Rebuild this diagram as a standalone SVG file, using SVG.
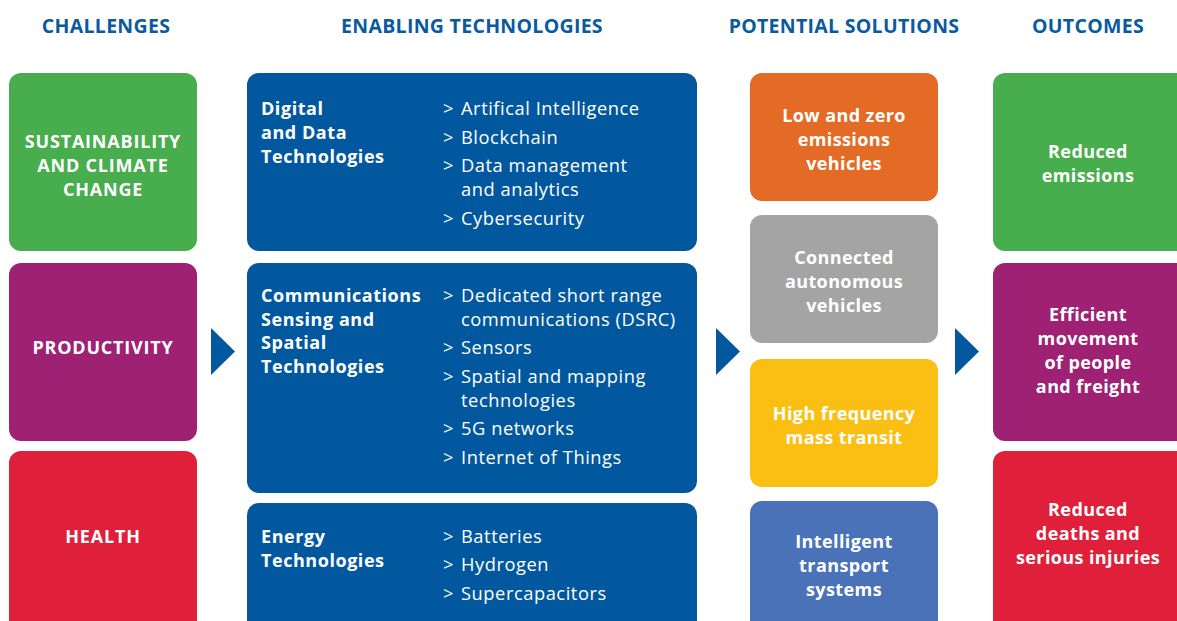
<svg xmlns="http://www.w3.org/2000/svg" width="1177" height="621" viewBox="0 0 1177 621">
<style>
.hd{font-family:"Open Sans","Liberation Sans",sans-serif;font-weight:700;font-size:19.5px;letter-spacing:0.3px;fill:#0a5aa0;text-anchor:middle}
.cb{font-family:"Open Sans","Liberation Sans",sans-serif;font-weight:700;font-size:18px;letter-spacing:0.4px;fill:#fff;text-anchor:middle}
.up{letter-spacing:0.8px}
.tt{font-family:"Open Sans","Liberation Sans",sans-serif;font-weight:700;font-size:18px;letter-spacing:0.55px;fill:#fff}
.it{font-family:"Open Sans","Liberation Sans",sans-serif;font-weight:400;font-size:18.3px;letter-spacing:0.55px;fill:#fff}
.arr{fill:#02589e}
</style>
<g id="headers">
<text class="hd" x="106" y="33">CHALLENGES</text>
<text class="hd" x="472" y="33">ENABLING TECHNOLOGIES</text>
<text class="hd" x="844" y="33">POTENTIAL SOLUTIONS</text>
<text class="hd" x="1088" y="33">OUTCOMES</text>
</g>
<g id="ch-sustainability">
<rect x="9" y="73" width="188" height="178" rx="12" fill="#48ae4d"/>
<text class="cb up" x="103" y="148">SUSTAINABILITY</text>
<text class="cb up" x="103" y="172">AND CLIMATE</text>
<text class="cb up" x="103" y="196">CHANGE</text>
</g>
<g id="ch-productivity">
<rect x="9" y="263" width="188" height="178" rx="12" fill="#9e2173"/>
<text class="cb up" x="103" y="354">PRODUCTIVITY</text>
</g>
<g id="ch-health">
<rect x="9" y="451" width="188" height="190" rx="12" fill="#e01f3a"/>
<text class="cb up" x="103" y="543">HEALTH</text>
</g>
<g id="tech-digital">
<rect x="247" y="73" width="450" height="178" rx="12" fill="#02589e"/>
<text class="tt" x="261" y="115">Digital</text>
<text class="tt" x="261" y="139">and Data</text>
<text class="tt" x="261" y="163">Technologies</text>
<text class="it" x="443" y="115">&gt;</text><text class="it" x="461" y="115">Artifical Intelligence</text>
<text class="it" x="443" y="144">&gt;</text><text class="it" x="461" y="144">Blockchain</text>
<text class="it" x="443" y="172">&gt;</text><text class="it" x="461" y="172">Data management</text>
<text class="it" x="461" y="196">and analytics</text>
<text class="it" x="443" y="225">&gt;</text><text class="it" x="461" y="225">Cybersecurity</text>
</g>
<g id="tech-comms">
<rect x="247" y="263" width="450" height="230" rx="12" fill="#02589e"/>
<text class="tt" x="261" y="302">Communications</text>
<text class="tt" x="261" y="326">Sensing and</text>
<text class="tt" x="261" y="349">Spatial</text>
<text class="tt" x="261" y="373">Technologies</text>
<text class="it" x="443" y="302">&gt;</text><text class="it" x="461" y="302">Dedicated short range</text>
<text class="it" x="461" y="326">communications (DSRC)</text>
<text class="it" x="443" y="354">&gt;</text><text class="it" x="461" y="354">Sensors</text>
<text class="it" x="443" y="383">&gt;</text><text class="it" x="461" y="383">Spatial and mapping</text>
<text class="it" x="461" y="407">technologies</text>
<text class="it" x="443" y="435">&gt;</text><text class="it" x="461" y="435">5G networks</text>
<text class="it" x="443" y="464">&gt;</text><text class="it" x="461" y="464">Internet of Things</text>
</g>
<g id="tech-energy">
<rect x="247" y="503" width="450" height="138" rx="12" fill="#02589e"/>
<text class="tt" x="261" y="543">Energy</text>
<text class="tt" x="261" y="567">Technologies</text>
<text class="it" x="443" y="543">&gt;</text><text class="it" x="461" y="543">Batteries</text>
<text class="it" x="443" y="571">&gt;</text><text class="it" x="461" y="571">Hydrogen</text>
<text class="it" x="443" y="600">&gt;</text><text class="it" x="461" y="600">Supercapacitors</text>
</g>
<g id="sol-emissions">
<rect x="750" y="73" width="188" height="128" rx="12" fill="#e46b25"/>
<text class="cb" x="844" y="122">Low and zero</text>
<text class="cb" x="844" y="146">emissions</text>
<text class="cb" x="844" y="170">vehicles</text>
</g>
<g id="sol-connected">
<rect x="750" y="215" width="188" height="128" rx="12" fill="#a4a4a4"/>
<text class="cb" x="844" y="264">Connected</text>
<text class="cb" x="844" y="288">autonomous</text>
<text class="cb" x="844" y="312">vehicles</text>
</g>
<g id="sol-transit">
<rect x="750" y="359" width="188" height="128" rx="12" fill="#fbbf14"/>
<text class="cb" x="844" y="420">High frequency</text>
<text class="cb" x="844" y="444">mass transit</text>
</g>
<g id="sol-its">
<rect x="750" y="501" width="188" height="140" rx="12" fill="#4a72b8"/>
<text class="cb" x="844" y="548">Intelligent</text>
<text class="cb" x="844" y="572">transport</text>
<text class="cb" x="844" y="596">systems</text>
</g>
<g id="out-emissions">
<rect x="993" y="73" width="200" height="178" rx="12" fill="#48ae4d"/>
<text class="cb" x="1088" y="158">Reduced</text>
<text class="cb" x="1088" y="182">emissions</text>
</g>
<g id="out-movement">
<rect x="993" y="263" width="200" height="178" rx="12" fill="#9e2173"/>
<text class="cb" x="1088" y="321">Efficient</text>
<text class="cb" x="1088" y="345">movement</text>
<text class="cb" x="1088" y="369">of people</text>
<text class="cb" x="1088" y="393">and freight</text>
</g>
<g id="out-deaths">
<rect x="993" y="451" width="200" height="190" rx="12" fill="#e01f3a"/>
<text class="cb" x="1088" y="516">Reduced</text>
<text class="cb" x="1088" y="540">deaths and</text>
<text class="cb" x="1088" y="564">serious injuries</text>
</g>
<g id="connectors">
<polygon class="arr" points="211,328 235,351.5 211,375"/>
<polygon class="arr" points="716,328 740,351.5 716,375"/>
<polygon class="arr" points="955,328 979,351.5 955,375"/>
</g>
</svg>
